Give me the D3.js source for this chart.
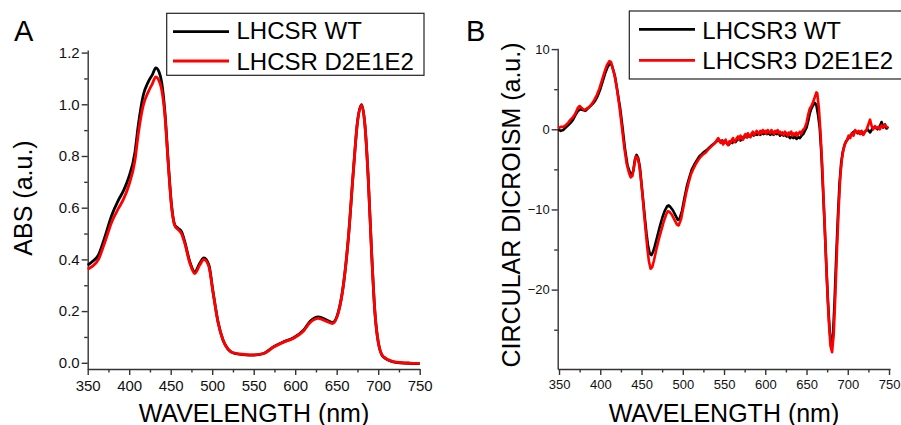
<html>
<head>
<meta charset="utf-8">
<title>LHCSR spectra</title>
<script src="https://cdn.jsdelivr.net/npm/d3@7"></script>
<style>
  body { margin: 0; background: #fff; }
  svg text { font-family: "Liberation Sans", Arial, sans-serif; fill: #000; }
  .axis path, .axis line { stroke: #333; stroke-width: 1.4; }
  .axis text { fill: #111; }
</style>
</head>
<body>
<script>
// ---- data ----
// panel A : absorption
const absWl = [350,355,363,370,379,387,393,399,407,411,417,423,428,432,436,439,443,447,451,455,
  459,463,467,473,479,485,490,496,501,507,513,519,527,540,550,562,574,586,598,610,
  618,628,638,645,652,658,664,670,675,680,684,688,692,696,700,706,718,738,750];
const absWT = [0.378,0.39,0.417,0.48,0.571,0.629,0.665,0.713,0.816,0.92,1.036,1.087,1.115,1.141,1.125,
  1.087,0.971,0.778,0.61,0.533,0.52,0.507,0.468,0.391,0.352,0.385,0.406,0.378,0.275,0.159,
  0.088,0.053,0.036,0.031,0.03,0.036,0.062,0.081,0.097,0.126,0.161,0.178,0.165,0.156,0.197,
  0.30,0.481,0.739,0.932,0.999,0.92,0.713,0.43,0.197,0.081,0.023,0.004,-0.002,-0.003];
const absMut = [0.362,0.372,0.40,0.46,0.545,0.597,0.632,0.681,0.784,0.887,0.997,1.048,1.08,1.106,1.09,
  1.058,0.958,0.772,0.605,0.53,0.515,0.5,0.462,0.386,0.345,0.378,0.4,0.372,0.272,0.157,
  0.088,0.053,0.037,0.032,0.031,0.036,0.061,0.08,0.095,0.123,0.156,0.172,0.16,0.152,0.194,
  0.298,0.48,0.738,0.93,0.997,0.92,0.713,0.43,0.197,0.081,0.024,0.005,-0.001,-0.002];

// panel B : circular dichroism  [wavelength, value]
const cdWT = [[349,0.0],[352,-0.2],[355,-0.1],[358,0.2],[361,0.5],[364,0.8],[367,1.2],[370,1.8],[373,2.3],[376,2.5],
  [379,2.4],[382,2.3],[385,2.6],[388,2.9],[391,3.2],[394,3.6],[397,4.2],[400,5.0],[403,6.0],[406,7.0],
  [409,7.8],[412,8.2],[414,8.0],[416,7.3],[418,6.5],[421,4.6],[424,2.7],[427,0.2],[430,-2.5],[433,-4.5],
  [436,-5.4],[438,-5.7],[440,-5.2],[442,-3.8],[444,-3.2],[446,-3.6],[448,-4.7],[450,-6.8],[452,-8.9],[454,-11.0],
  [456,-13.0],[458,-14.6],[460,-15.5],[462,-15.7],[464,-15.3],[466,-14.6],[469,-13.4],[472,-12.2],[475,-11.1],[478,-10.2],
  [481,-9.6],[483,-9.5],[485,-9.7],[488,-10.1],[491,-10.7],[494,-11.3],[496,-11.2],[499,-10.2],[502,-8.6],[505,-7.1],
  [508,-6.0],[511,-5.0],[514,-4.4],[517,-3.9],[520,-3.4],[523,-3.1],[526,-2.8],[529,-2.6],[532,-2.3],[535,-2.0],
  [538,-1.8],[541,-1.5],[544,-1.3],[546,-1.6],[548,-1.4],[550,-1.7],[552,-1.5],[554,-1.8],[556,-1.9],[558,-1.6],
  [560,-1.7],[562,-1.4],[564,-1.6],[566,-1.3],[568,-1.2],[570,-1.4],[572,-1.0],[574,-1.1],[576,-0.8],[578,-1.0],
  [580,-0.8],[582,-0.9],[584,-0.6],[586,-0.8],[588,-0.6],[590,-0.7],[592,-0.5],[594,-0.7],[596,-0.5],[598,-0.6],
  [600,-0.4],[602,-0.6],[604,-0.5],[606,-0.7],[608,-0.5],[610,-0.7],[612,-0.5],[614,-0.6],[616,-0.5],[618,-0.8],
  [620,-0.6],[622,-0.8],[624,-0.7],[626,-0.9],[628,-0.8],[630,-1.1],[632,-0.9],[634,-1.1],[636,-0.9],[638,-1.2],
  [640,-1.0],[642,-1.1],[644,-0.8],[646,-0.6],[648,-0.2],[650,0.2],[652,1.0],
  [654,2.0],[656,2.6],[658,3.0],[660,3.3],[662,3.0],[664,1.8],[666,0.2],[668,-3.0],[670,-7.5],[672,-12.0],
  [674,-17.0],[676,-21.5],[678,-25.0],[680,-27.0],[682,-26.0],[684,-21.5],[686,-16.0],[688,-11.0],[690,-6.8],[692,-4.2],
  [694,-2.8],[696,-2.0],[698,-1.5],[700,-1.2],[703,-0.8],[706,-0.4],[709,-0.2],[712,-0.5],[715,-0.3],[718,-0.6],
  [721,-0.3],[724,0.0],[727,-0.4],[730,0.1],[733,0.3],[736,0.0],[739,0.4],[741,0.9],[743,0.2],[745,0.6],
  [747,0.1],[749,0.3]];
const cdMut = [[349,0.1],[352,0.3],[355,0.3],[358,0.5],[361,0.8],[364,1.2],[367,1.5],[370,2.0],[373,2.7],[375,2.9],
  [378,2.6],[381,2.4],[384,2.6],[387,2.8],[390,3.2],[393,3.7],[396,4.3],[399,5.1],[402,6.1],[405,7.1],
  [408,8.0],[411,8.5],[413,8.4],[415,7.6],[417,6.9],[420,5.2],[423,3.0],[426,0.5],[429,-2.2],[432,-4.3],
  [435,-5.5],[437,-6.0],[439,-5.8],[441,-4.6],[443,-3.4],[445,-3.5],[447,-4.3],[449,-6.0],[451,-8.0],[453,-10.4],
  [455,-12.6],[457,-14.8],[459,-16.5],[461,-17.4],[463,-17.2],[465,-16.4],[468,-15.0],[471,-13.7],[474,-12.6],[477,-11.5],
  [480,-10.6],[482,-10.2],[484,-10.3],[487,-10.7],[490,-11.3],[493,-11.9],[495,-12.0],[498,-11.2],[501,-9.6],[504,-8.0],
  [507,-6.7],[510,-5.6],[513,-4.9],[516,-4.3],[519,-3.8],[522,-3.4],[525,-3.1],[528,-2.9],[531,-2.5],[534,-2.2],
  [537,-1.9],[540,-1.6],[541.5,-1.3],[543,-1.1],[544.5,-1.5],[546,-1.7],[547.5,-1.4],[549,-1.9],[550.5,-1.6],[552,-1.3],
  [553.5,-1.8],[555,-2.0],[556.5,-1.5],[558,-1.7],[559.5,-1.3],[561,-1.1],[562.5,-1.6],[564,-1.4],[565.5,-1.1],[567,-0.9],
  [568.5,-1.3],[570,-0.8],[571.5,-1.1],[573,-1.3],[574.5,-0.8],[576,-0.6],[577.5,-1.0],[579,-0.5],[580.5,-0.8],[582,-1.0],
  [583.5,-0.5],[585,-0.3],[586.5,-0.7],[588,-0.5],[589.5,-0.2],[591,-0.4],[592.5,-0.6],[594,-0.2],[595.5,-0.5],[597,-0.1],
  [598.5,-0.4],[600,-0.2],[601.5,-0.5],[603,-0.1],[604.5,-0.3],[606,-0.5],[607.5,-0.1],[609,-0.3],[610.5,-0.6],[612,-0.2],
  [613.5,-0.4],[615,-0.1],[616.5,-0.5],[618,-0.3],[619.5,-0.6],[621,-0.4],[622.5,-0.7],[624,-0.3],[625.5,-0.5],[627,-0.8],
  [628.5,-0.4],[630,-0.6],[631.5,-0.3],[633,-0.8],[634.5,-0.5],[636,-0.7],[637.5,-0.4],[639,-0.8],[640.5,-0.5],[642,-0.3],
  [643.5,-0.6],[645,-0.2],[648,0.2],[650,0.8],[652,1.8],
  [654,2.6],[656,2.9],[658,3.4],[660,4.0],[662,4.6],[663,4.5],[665,2.6],[667,-0.5],[669,-4.5],[671,-9.5],
  [673,-14.5],[675,-19.5],[677,-23.8],[679,-27.0],[681,-27.8],[683,-25.5],[685,-20.5],[687,-14.8],[689,-9.8],[691,-5.8],
  [693,-3.6],[695,-2.4],[697,-1.7],[699,-1.4],[701,-0.8],[703,-1.1],[705,-0.5],[707,-0.8],[709,-0.1],[711,-0.4],
  [713,-0.2],[715,-0.6],[717,-0.2],[719,-0.7],[721,-0.3],[723,0.0],[725,0.6],[727,1.2],[729,0.4],[731,0.0],
  [733,0.4],[735,0.1],[737,0.3],[739,0.0],[741,0.5],[743,0.2],[745,0.6],[747,0.3],[749,0.2]];

const wlTicks = [350,400,450,500,550,600,650,700,750];
const wlMinor = [375,425,475,525,575,625,675,725];
const absTicks = [0,0.2,0.4,0.6,0.8,1.0,1.2];
const absMinor = [0.1,0.3,0.5,0.7,0.9,1.1];
const cdTicks = [-20,-10,0,10];
const cdMinor = [-25,-15,-5,5];
const legendA = ["LHCSR WT","LHCSR D2E1E2"];
const legendB = ["LHCSR3 WT","LHCSR3 D2E1E2"];
const colors = ["#000","#ff0000"];

const svg = d3.select("body").append("svg")
  .attr("width", 901)
  .attr("height", 425);

// small helper for the Origin-like axes (major + minor ticks)
function drawAxis(axisFn, scale, major, minor, fmt, size, pos){
  const g = svg.append("g").attr("class","axis").attr("transform", pos);
  g.call(axisFn(scale).tickValues(major).tickFormat(fmt).tickSize(6).tickSizeOuter(0).tickPadding(2))
   .selectAll("text").style("font-size", size + "px");
  const m = svg.append("g").attr("class","axis").attr("transform", pos);
  m.call(axisFn(scale).tickValues(minor).tickFormat("").tickSize(3.5).tickSizeOuter(0));
  m.select(".domain").remove();
  return g;
}

// ================= panel A =================
const xA = d3.scaleLinear().domain([350,750]).range([87.7,419.7]);
const yA = d3.scaleLinear().domain([-0.024,1.21]).range([369,50]);

drawAxis(d3.axisBottom, xA, wlTicks, wlMinor, d3.format("d"), 15, "translate(0,369)")
  .selectAll("text").attr("dy","0.95em");
drawAxis(d3.axisLeft, yA, absTicks, absMinor, d3.format(".1f"), 15, "translate(87.7,0)");

const lineA = d3.line().curve(d3.curveMonotoneX);
[absWT, absMut].forEach(function(ser, i){
  svg.append("path")
    .attr("d", lineA(absWl.map((w, k) => [xA(w), yA(ser[k])])))
    .attr("fill","none")
    .attr("stroke", colors[i])
    .attr("stroke-width", 2.8)
    .attr("stroke-linejoin","round");
});

svg.append("text").attr("x", 14).attr("y", 40.7).style("font-size","29px").text("A");
svg.append("text").attr("x", 254).attr("y", 421.5).attr("text-anchor","middle")
  .style("font-size","25px").text("WAVELENGTH (nm)");
svg.append("text").attr("transform","translate(31.5,198) rotate(-90)").attr("text-anchor","middle")
  .style("font-size","25px").text("ABS (a.u.)");

// legend A
svg.append("rect").attr("x",166.7).attr("y",13.3).attr("width",257.3).attr("height",62)
  .attr("fill","#fff").attr("stroke","#222").attr("stroke-width",1.2);
legendA.forEach(function(t, i){
  const ly = [31.7, 61][i];
  svg.append("line").attr("x1",173).attr("x2",229).attr("y1",ly).attr("y2",ly)
    .attr("stroke",colors[i]).attr("stroke-width",2.8);
  svg.append("text").attr("x",236.5).attr("y",[39,70][i]).style("font-size","24px").text(t);
});

// ================= panel B =================
const xB = d3.scaleLinear().domain([348.4,751.2]).range([557.7,890]);
const yB = d3.scaleLinear().domain([-29.9,10.1]).range([369,48.3]);

drawAxis(d3.axisBottom, xB, wlTicks, wlMinor, d3.format("d"), 13, "translate(0,369)")
  .selectAll("text").attr("dy","0.95em");
drawAxis(d3.axisLeft, yB, cdTicks, cdMinor, d3.format("d"), 13, "translate(557.7,0)");

const lineB = d3.line().x(d => xB(d[0])).y(d => yB(d[1]));
[cdWT, cdMut].forEach(function(ser, i){
  svg.append("path")
    .attr("d", lineB(ser))
    .attr("fill","none")
    .attr("stroke", colors[i])
    .attr("stroke-width", 2.6)
    .attr("stroke-linejoin","round");
});

svg.append("text").attr("x", 466).attr("y", 40.7).style("font-size","29px").text("B");
svg.append("text").attr("x", 724).attr("y", 421.5).attr("text-anchor","middle")
  .style("font-size","25px").text("WAVELENGTH (nm)");
svg.append("text").attr("transform","translate(520,205) rotate(-90)").attr("text-anchor","middle")
  .style("font-size","25px").text("CIRCULAR DICROISM (a.u.)");

// legend B (runs off the right edge like the original)
svg.append("rect").attr("x",629.3).attr("y",11).attr("width",290).attr("height",68)
  .attr("fill","#fff").attr("stroke","#222").attr("stroke-width",1.2);
legendB.forEach(function(t, i){
  const ly = [29.3, 60.3][i];
  svg.append("line").attr("x1",639).attr("x2",695).attr("y1",ly).attr("y2",ly)
    .attr("stroke",colors[i]).attr("stroke-width",2.8);
  svg.append("text").attr("x",702.3).attr("y",[39,69.3][i]).style("font-size","24px").text(t);
});
</script>
</body>
</html>
